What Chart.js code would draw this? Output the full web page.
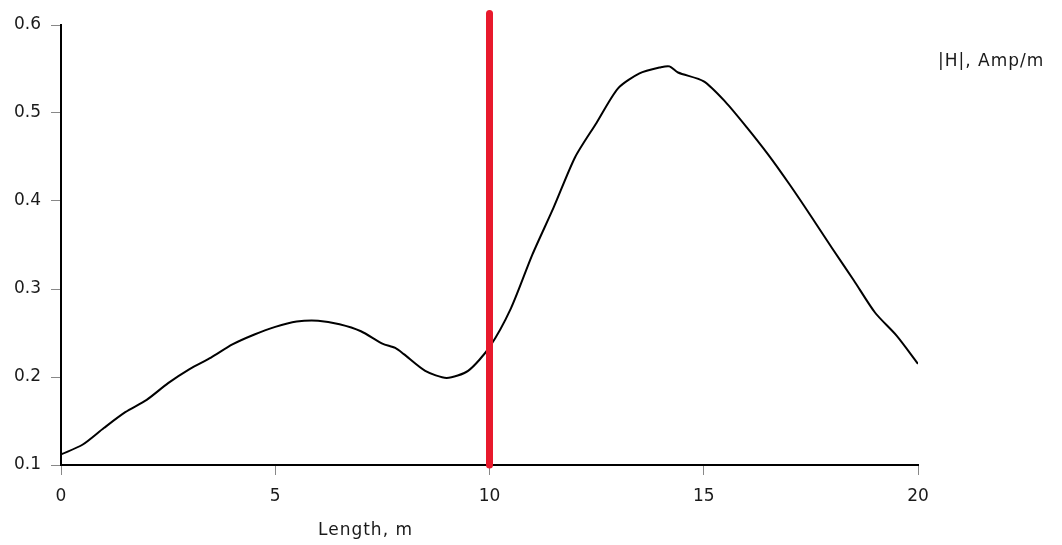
<!DOCTYPE html>
<html>
<head>
<meta charset="utf-8">
<script src="https://cdn.jsdelivr.net/npm/chart.js@4/dist/chart.umd.min.js"></script>
<style>
  html, body { margin: 0; padding: 0; background: #fff; }
  #wrap { position: relative; width: 1062px; height: 545px; }
</style>
</head>
<body>
<div id="wrap"><canvas id="fieldChart" width="1062" height="545"></canvas></div>
<script>
// Length along the line (m) and field magnitude |H| (Amp/m)
const lengthM = [0, 0.5, 1, 1.5, 2, 2.5, 3, 3.5, 4, 4.5, 5, 5.5, 6, 6.5, 7, 7.5, 7.8, 8, 8.5, 9, 9.5,
  10, 10.5, 11, 11.5, 12, 12.5, 13, 13.5, 14, 14.2, 14.4, 15, 15.5, 16, 16.5, 17, 17.5, 18, 18.5, 19, 19.5, 20];
const hField = [0.112, 0.123, 0.142, 0.160, 0.174, 0.193, 0.209, 0.222, 0.237, 0.248, 0.257, 0.263, 0.264, 0.260, 0.252, 0.238, 0.233, 0.226, 0.207, 0.199, 0.207,
  0.234, 0.278, 0.339, 0.393, 0.450, 0.489, 0.528, 0.545, 0.552, 0.553, 0.546, 0.536, 0.513, 0.484, 0.453, 0.419, 0.383, 0.346, 0.310, 0.273, 0.247, 0.215];

// red marker at 10 m
const markerX = [10, 10];
const markerY = [0.1, 0.613];

const xTicks = [0, 5, 10, 15, 20];
const yTicks = [0.1, 0.2, 0.3, 0.4, 0.5, 0.6];

const FONT = "'DejaVu Sans', Verdana, sans-serif";
const TEXT = "#1a1a1a";

const toPoints = (xs, ys) => xs.map((x, i) => ({ x, y: ys[i] }));

// axis titles drawn as text on the canvas
const labelsPlugin = {
  id: "axisLabels",
  afterDraw(chart) {
    const ctx = chart.ctx;
    ctx.save();
    ctx.fillStyle = TEXT;
    ctx.font = "17px " + FONT;
    ctx.letterSpacing = "1px";
    ctx.textBaseline = "middle";
    ctx.textAlign = "left";
    ctx.fillText("|H|, Amp/m", 938, 62);
    ctx.fillText("Length, m", 318, 531);
    ctx.restore();
  }
};

new Chart(document.getElementById("fieldChart"), {
  type: "scatter",
  data: {
    datasets: [
      {
        data: toPoints(markerX, markerY),
        showLine: true,
        borderColor: "#e8192c",
        borderWidth: 7,
        borderCapStyle: "round",
        pointRadius: 0,
        clip: false
      },
      {
        data: toPoints(lengthM, hField),
        showLine: true,
        borderColor: "#000",
        borderWidth: 2,
        tension: 0.25,
        pointRadius: 0
      }
    ]
  },
  options: {
    responsive: false,
    animation: false,
    layout: { padding: { top: 25, right: 144, left: 0, bottom: 0 } },
    plugins: { legend: { display: false }, tooltip: { enabled: false } },
    scales: {
      x: {
        type: "linear",
        min: 0, max: 20,
        afterFit: s => { s.height = 80; },
        afterBuildTicks: s => { s.ticks = xTicks.map(v => ({ value: v })); },
        grid: { drawOnChartArea: false, drawTicks: true, tickLength: 10, tickColor: "#888" },
        border: { display: true, color: "#000", width: 2 },
        ticks: { color: TEXT, font: { family: FONT, size: 17 }, padding: 11, maxRotation: 0 }
      },
      y: {
        type: "linear",
        min: 0.1, max: 0.6,
        afterFit: s => { s.width = 61; },
        afterBuildTicks: s => { s.ticks = yTicks.map(v => ({ value: v })); },
        grid: { drawOnChartArea: false, drawTicks: true, tickLength: 10, tickColor: "#888" },
        border: { display: true, color: "#000", width: 2 },
        ticks: { color: TEXT, font: { family: FONT, size: 17 }, padding: 10, callback: v => v.toFixed(1) }
      }
    }
  },
  plugins: [labelsPlugin]
});
</script>
</body>
</html>
